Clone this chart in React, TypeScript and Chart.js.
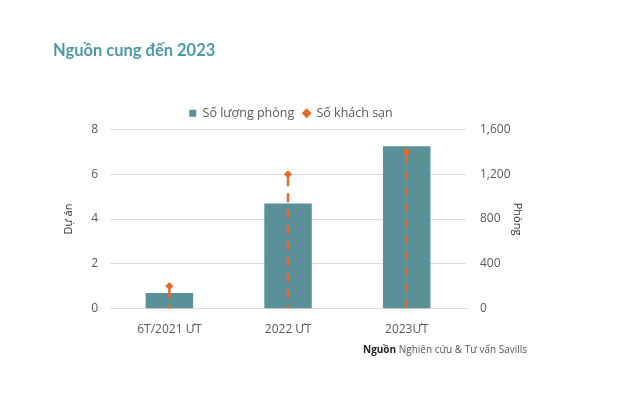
import React, { useEffect, useRef } from "react";
import { Chart, registerables } from "chart.js";

Chart.register(...registerables);

const categories = ["6T/2021 ƯT", "2022 ƯT", "2023ƯT"];
const roomValues = [140, 940, 1450];
const hotelValues = [1, 6, 7];
const leftTicks = [0, 2, 4, 6, 8];
const rightTicks = [0, 400, 800, 1200, 1600];

const TEAL = "#5a9198";
const ORANGE = "#e06c2c";
const GRID = "#e3d9d6";
const TEXT = "#595959";
const FONT = "'Open Sans', 'Noto Sans', sans-serif";

const dropLines = {
  id: "dropLines",
  afterDatasetsDraw(chart: any) {
    const meta = chart.getDatasetMeta(0);
    const yScale = chart.scales.y;
    const ctx = chart.ctx;
    ctx.save();
    ctx.strokeStyle = ORANGE;
    ctx.lineWidth = 2.5;
    ctx.setLineDash([9, 7]);
    meta.data.forEach((pt: any) => {
      ctx.beginPath();
      ctx.moveTo(pt.x, pt.y + 3);
      ctx.lineTo(pt.x, yScale.bottom);
      ctx.stroke();
    });
    ctx.restore();
  },
};

export default function App() {
  const ref = useRef<HTMLCanvasElement>(null);
  useEffect(() => {
    document.body.style.margin = "0";
    const chart = new Chart(ref.current!, {
      type: "bar",
      data: {
        labels: categories,
        datasets: [
          {
            type: "line",
            label: "Số khách sạn",
            data: hotelValues,
            yAxisID: "y",
            showLine: false,
            borderColor: ORANGE,
            backgroundColor: ORANGE,
            pointStyle: "rectRot",
            pointRadius: 3.5,
            order: 0,
          } as any,
          {
            type: "bar",
            label: "Số lượng phòng",
            data: roomValues,
            yAxisID: "y1",
            backgroundColor: TEAL,
            barPercentage: 0.4,
            categoryPercentage: 1,
            order: 1,
          },
        ],
      },
      options: {
        responsive: false,
        animation: false,
        layout: { padding: { left: 58, right: 120, top: 98, bottom: 51 } },
        plugins: {
          tooltip: { enabled: false },
          legend: {
            position: "top",
            labels: {
              usePointStyle: true,
              boxWidth: 7,
              boxHeight: 7,
              color: TEXT,
              font: { family: FONT, size: 12.5 },
              padding: 9,
              sort: (a: any, b: any) => b.datasetIndex - a.datasetIndex,
              generateLabels: (c: any) =>
                Chart.defaults.plugins.legend.labels.generateLabels(c).map((l: any) => ({
                  ...l,
                  pointStyle: l.datasetIndex === 1 ? "rect" : "rectRot",
                  lineWidth: 0,
                })),
            },
          },
        },
        scales: {
          x: {
            grid: { display: false },
            border: { color: GRID },
            ticks: { color: TEXT, font: { family: FONT, size: 12 }, padding: 6 },
          },
          y: {
            position: "left",
            min: 0,
            max: 8,
            afterBuildTicks: (s: any) => {
              s.ticks = leftTicks.map((v) => ({ value: v }));
            },
            grid: { color: GRID, drawTicks: false },
            border: { display: false },
            ticks: { color: TEXT, font: { family: FONT, size: 12 }, padding: 12 },
            title: { display: true, text: "Dự án", color: "#333", font: { family: FONT, size: 11 }, padding: 4 },
          },
          y1: {
            position: "right",
            min: 0,
            max: 1600,
            afterBuildTicks: (s: any) => {
              s.ticks = rightTicks.map((v) => ({ value: v }));
            },
            afterFit: (s: any) => {
              s.width = 58;
            },
            grid: { display: false, drawTicks: false },
            border: { display: false },
            ticks: {
              color: TEXT,
              font: { family: FONT, size: 12 },
              padding: 14,
              callback: (v: any) => Number(v).toLocaleString("en-US"),
            },
            title: { display: true, text: "Phòng", color: "#333", font: { family: FONT, size: 11 }, padding: 0 },
          },
        },
      },
      plugins: [dropLines],
    } as any);
    return () => chart.destroy();
  }, []);
  return (
    <div style={{ position: "relative", width: 644, height: 394, background: "#fff" }}>
      <canvas ref={ref} width={644} height={394} />
      <div
        style={{
          position: "absolute",
          left: 53,
          top: 40,
          fontFamily: "Lato, sans-serif",
          fontWeight: 700,
          fontSize: 16.5,
          lineHeight: "20px",
          color: "#4f9aa1",
          whiteSpace: "nowrap",
        }}
      >
        Nguồn cung đến 2023
      </div>
      <div
        style={{
          position: "absolute",
          left: 363,
          top: 342,
          fontFamily: FONT,
          fontSize: 10,
          color: "#555",
          whiteSpace: "nowrap",
        }}
      >
        <b style={{ color: "#222" }}>Nguồn</b> Nghiên cứu &amp; Tư vấn Savills
      </div>
    </div>
  );
}
